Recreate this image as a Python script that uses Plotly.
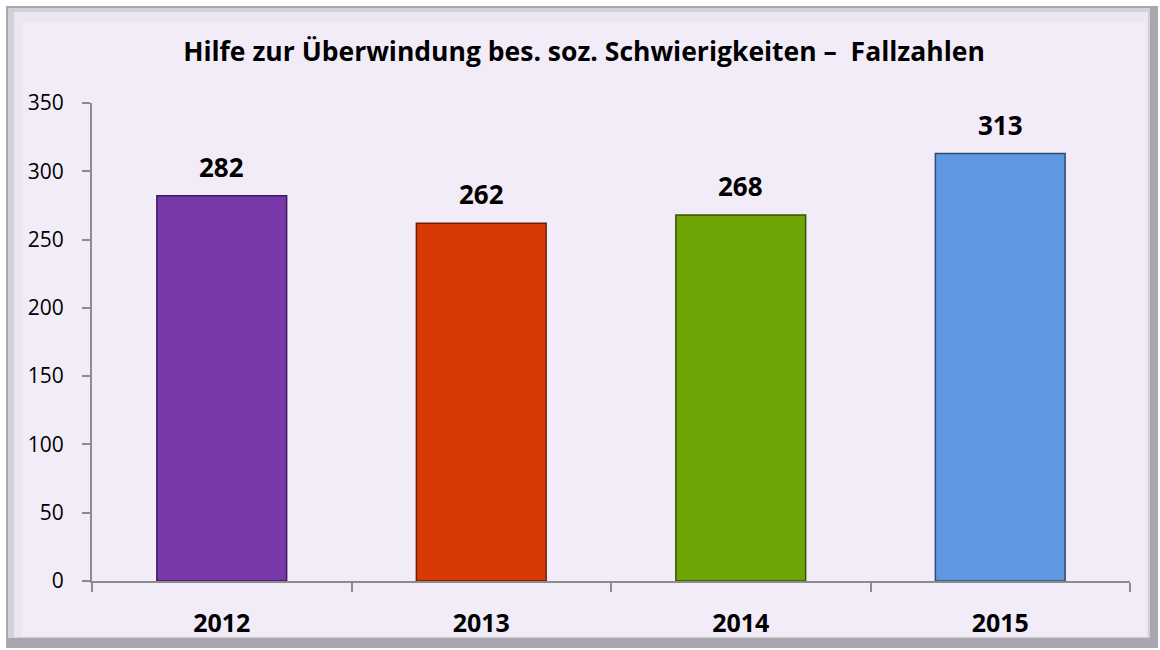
import plotly.graph_objects as go

years = ["2012", "2013", "2014", "2015"]
cases = [282, 262, 268, 313]
bar_colors = ["#7838a8", "#d83a06", "#6ea404", "#5e98e0"]
edge_colors = ["#3c1a58", "#6e1d02", "#375202", "#2e4c70"]
y_ticks = [0, 50, 100, 150, 200, 250, 300, 350]
title_text = "Hilfe zur Überwindung bes. soz. Schwierigkeiten –  Fallzahlen"

W, H = 1160, 650
L, R, T, B = 92, 30, 103, 69
pw, ph = W - L - R, H - T - B

def px(x):
    return (x - L) / pw

def py(y):
    return (H - B - y) / ph

FONT = "Open Sans"

fig = go.Figure()
fig.add_trace(go.Bar(
    x=years, y=cases, width=0.5,
    marker=dict(color=bar_colors, line=dict(color=edge_colors, width=1.5)),
    hoverinfo="x+y",
))

for i, v in enumerate(cases):
    fig.add_annotation(x=i, y=v, text=f"<b>{v}</b>", showarrow=False,
                       yanchor="bottom", yshift=9,
                       font=dict(family=FONT, size=26, color="#000000"))

# frame (bevelled border)
shapes = [
    dict(type="rect", xref="paper", yref="paper", x0=px(6), x1=px(1158), y0=py(648), y1=py(6),
         fillcolor="#a9a6ae", line=dict(width=0), layer="below"),
    dict(type="rect", xref="paper", yref="paper", x0=px(8), x1=px(1150), y0=py(638), y1=py(8),
         fillcolor="#d4d0d8", line=dict(width=0), layer="below"),
    dict(type="rect", xref="paper", yref="paper", x0=px(14), x1=px(1148), y0=py(637), y1=py(12),
         fillcolor="#ebe6f0", line=dict(width=0), layer="below"),
    dict(type="rect", xref="paper", yref="paper", x0=px(22), x1=px(1146), y0=py(636), y1=py(22),
         fillcolor="#f2ecf8", line=dict(width=0), layer="below"),
]

fig.update_layout(
    width=W, height=H,
    margin=dict(l=L, r=R, t=T, b=B),
    paper_bgcolor="#ffffff",
    plot_bgcolor="rgba(0,0,0,0)",
    shapes=shapes,
    showlegend=False,
    title=dict(text=f"<b>{title_text}</b>", x=584 / W, xref="container", xanchor="center",
               y=1 - 52 / H, yanchor="middle", yref="container",
               font=dict(family=FONT, size=26.5, color="#000000")),
    xaxis=dict(
        type="category", tickson="boundaries", ticks="outside", ticklen=9,
        tickcolor="#8c8c8c", tickwidth=2, showline=True, linecolor="#8c8c8c", linewidth=2,
        showgrid=False, zeroline=False,
        tickfont=dict(family=FONT, size=25, color="#000000", weight="bold"),
        ticklabelstandoff=19,
    ),
    yaxis=dict(
        range=[0, 350], tickvals=y_ticks, ticks="outside", ticklen=8,
        tickcolor="#8c8c8c", tickwidth=2, showline=True, linecolor="#8c8c8c", linewidth=2,
        showgrid=False, zeroline=False,
        tickfont=dict(family=FONT, size=21, color="#000000"),
        ticklabelstandoff=14,
    ),
)

fig.write_html("out.html", config={"displayModeBar": False},
               post_script="document.body.style.margin='0';document.body.style.overflow='hidden';")
